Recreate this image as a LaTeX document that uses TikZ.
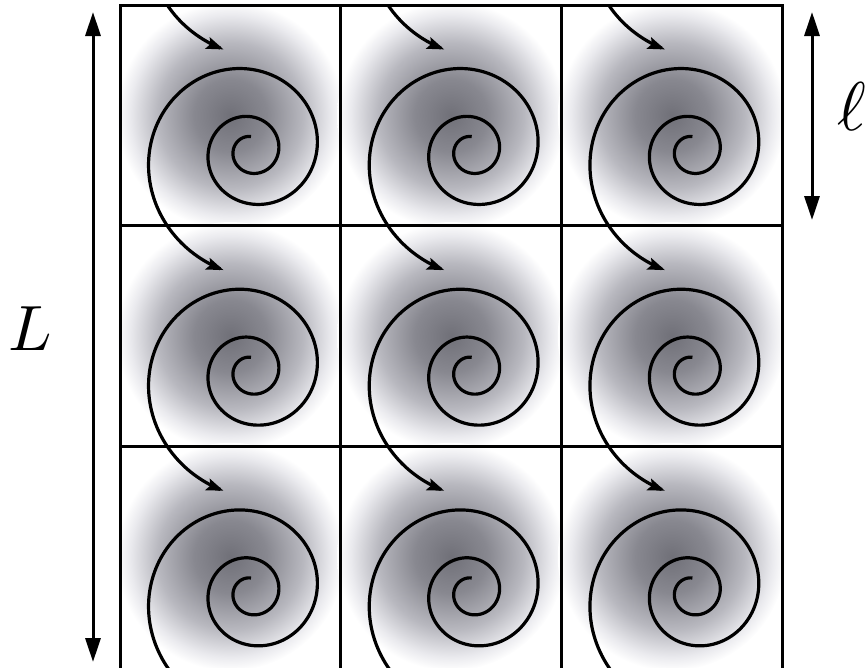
\documentclass[tikz,border=0pt]{standalone}
\usetikzlibrary{arrows.meta}
\definecolor{blobA}{RGB}{112,112,120}
\definecolor{blobB}{RGB}{136,136,144}
\definecolor{blobC}{RGB}{184,184,191}
\definecolor{blobD}{RGB}{234,234,238}
\pgfdeclareradialshading{blob}{\pgfpointorigin}{color(0bp)=(blobA); color(8bp)=(blobB); color(16bp)=(blobC); color(22bp)=(blobD); color(25bp)=(white); color(50bp)=(white)}
\tikzset{
  gridline/.style={line width=3pt, line cap=rect},
  spiralline/.style={line width=3.2pt, -{Stealth[length=17pt,width=12pt,inset=3pt]}},
  dimarrow/.style={line width=3pt, {Triangle[length=24pt,width=15pt]}-{Triangle[length=24pt,width=15pt]}},
  lab/.style={inner sep=0pt}
}
\begin{document}
\begin{tikzpicture}[x=1pt,y=-1pt]
\useasboundingbox (0,0) rectangle (867,667);
% shaded blobs
\foreach \i in {0,1,2}{
  \foreach \j in {0,1,2}{
    \shade[shading=blob] ({120+220.7*\i+110.35},{5+220.7*\j+110.35}) circle (114pt);
  }
}
% spirals (clipped to grid)
\begin{scope}
  \clip (120,5) rectangle (782,668);
  \foreach \i in {0,1,2}{
    \foreach \j in {-1,0,1,2}{
      \pgfmathsetmacro\cx{120+220.7*\i+131}
      \pgfmathsetmacro\cy{5+220.7*\j+146}
      \draw[spiralline] plot[domain=90:977, samples=400, smooth, variable=\t]
        ({\cx+14.4*exp(0.002417*(\t-90))*cos(\t)}, {\cy-14.4*exp(0.002417*(\t-90))*sin(\t)});
    }
  }
\end{scope}
% grid
\coordinate (g00) at (120,5);
\coordinate (g30) at (782,5);
\coordinate (g01) at (120,225.7);
\coordinate (g31) at (782,225.7);
\coordinate (g02) at (120,446.4);
\coordinate (g32) at (782,446.4);
\coordinate (b0) at (120,672);
\coordinate (t1) at (340.7,5);
\coordinate (b1) at (340.7,672);
\coordinate (t2) at (561.4,5);
\coordinate (b2) at (561.4,672);
\coordinate (b3) at (782,672);
\draw[gridline] (b0) -- (g00) -- (g30) -- (b3);
\draw[gridline] (g01) -- (g31);
\draw[gridline] (g02) -- (g32);
\draw[gridline] (t1) -- (b1);
\draw[gridline] (t2) -- (b2);
% dimension arrows
\coordinate (Ltop) at (93,12);
\coordinate (Lbot) at (93,662);
\draw[dimarrow] (Ltop) -- (Lbot);
\coordinate (ltop) at (812,12);
\coordinate (lbot) at (812,220);
\draw[dimarrow] (ltop) -- (lbot);
\node[lab, scale=6.4] (Llabel) at (30,329) {$L$};
\node[lab, scale=6.9] (llabel) at (852,107) {$\ell$};
\end{tikzpicture}
\end{document}
